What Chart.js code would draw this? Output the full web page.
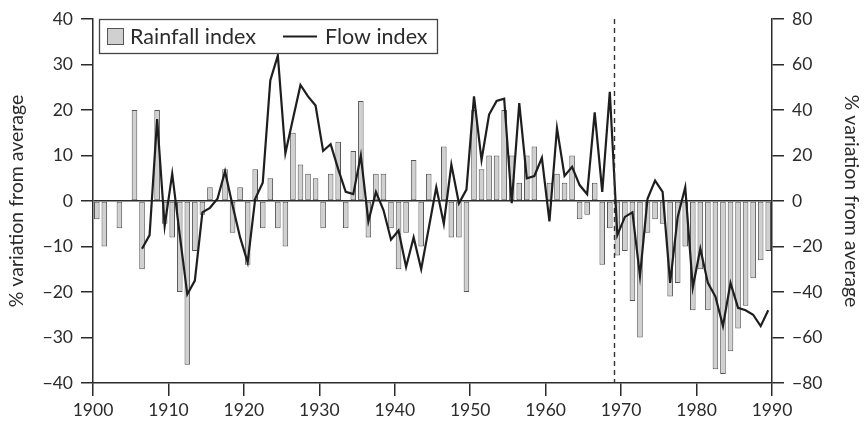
<!DOCTYPE html>
<html>
<head>
<meta charset="utf-8">
<title>Rainfall and flow index</title>
<script src="https://cdn.jsdelivr.net/npm/chart.js@4.4.1/dist/chart.umd.min.js"></script>
<style>
    body { margin: 0; background: #fff; }
    .wrap { width: 868px; height: 425px; position: relative; }
</style>
</head>
<body>
<div class="wrap"><canvas id="myChart"></canvas></div>
<script>
// years 1900..1989
const years = [];
for (let y = 1900; y <= 1989; y++) years.push(y);

// rainfall index, % variation from average (left axis)
const rainfall = [
    -4, -10, 0, -6, 0, 20, -15, 0, 20, -5,
    -8, -20, -36, -11, -3, 3, 0, 7, -7, 3,
    -14, 7, -6, 5, -6, -10, 15, 8, 6, 5,
    -6, 6, 13, -6, 11, 22, -8, 6, 6, -6,
    -15, -7, 9, -10, 6, 0, 12, -8, -8, -20,
    20, 7, 10, 10, 20, 10, 4, 10, 12, 0,
    4, 6, 4, 10, -4, -3, 4, -14, -6, -12,
    -11, -22, -30, -7, -4, -5, -21, -18, -10, -24,
    -15, -24, -37, -38, -33, -28, -23, -17, -13, -11
];

// flow index, % variation from average (right axis), starts 1906
const flow = [
    null, null, null, null, null, null, -21, -15, 36, -11,
    12, -15, -41, -35, -5, -3, 1, 13, -2, -16,
    -27, 1, 8, 53, 64, 21, 36, 51, 46, 42,
    22, 25, 14, 4, 3, 20, -9, 4, -4, -17,
    -13, -29, -16, -30, -12, 6, -10, 16, -1, 5,
    46, 18, 38, 44, 45, -1, 43, 10, 11, 19,
    -9, 32, 11, 15, 7, 3, 39, 4, 48, -15,
    -7, -5, -33, 1, 9, 4, -36, -7, 6, -38,
    -21, -36, -42, -55, -36, -47, -48, -50, -55, -48
];

const leftTicks = { min: -40, max: 40, step: 10 };
const rightTicks = { min: -80, max: 80, step: 20 };
const xTicks = { min: 1900, max: 1990, step: 10 };
const dividerYear = 1969.1;

const FONT = 'Lato, "Noto Sans", sans-serif';
const INK = '#2b2b2b';
const minus = v => String(v).replace('-', '\u2212');

// dashed divider + boxed legend
const extras = {
    id: 'extras',
    afterDatasetsDraw(chart) {
        const { ctx, chartArea, scales } = chart;
        const x = Math.round(scales.x.getPixelForValue(dividerYear)) + 0.5;
        ctx.save();
        ctx.strokeStyle = '#333';
        ctx.lineWidth = 1.4;
        ctx.setLineDash([5, 4]);
        ctx.beginPath();
        ctx.moveTo(x, chartArea.top);
        ctx.lineTo(x, chartArea.bottom);
        ctx.stroke();
        ctx.restore();

        // legend
        const lx = chartArea.left + 6, ly = chartArea.top;
        ctx.save();
        ctx.fillStyle = '#fff';
        ctx.fillRect(lx, ly, 338, 34);
        ctx.strokeStyle = '#444';
        ctx.lineWidth = 1.3;
        ctx.strokeRect(lx + 0.5, ly + 0.5, 338, 34);

        ctx.fillStyle = '#d0d0d0';
        ctx.fillRect(lx + 8, ly + 9, 16, 16);
        ctx.strokeStyle = '#555';
        ctx.lineWidth = 1;
        ctx.strokeRect(lx + 8.5, ly + 9.5, 16, 16);

        ctx.font = '21.5px ' + FONT;
        ctx.fillStyle = INK;
        ctx.textBaseline = 'middle';
        ctx.fillText('Rainfall index', lx + 31, ly + 18);

        ctx.strokeStyle = '#1e1e1e';
        ctx.lineWidth = 2;
        ctx.beginPath();
        ctx.moveTo(lx + 184, ly + 17.5);
        ctx.lineTo(lx + 218, ly + 17.5);
        ctx.stroke();
        ctx.fillText('Flow index', lx + 226, ly + 18);
        ctx.restore();
    }
};

const ctx = document.getElementById('myChart').getContext('2d');
const myChart = new Chart(ctx, {
    type: 'bar',
    data: {
        datasets: [{
            type: 'line',
            label: 'Flow index',
            data: years.map((y, i) => ({ x: y + 0.5, y: flow[i] })),
            yAxisID: 'y2',
            borderColor: '#1e1e1e',
            borderWidth: 2.2,
            pointRadius: 0,
            tension: 0,
            spanGaps: false,
            order: 0
        }, {
            label: 'Rainfall index',
            data: years.map((y, i) => ({ x: y + 0.5, y: rainfall[i] })),
            yAxisID: 'y',
            backgroundColor: '#d0d0d0',
            borderColor: '#555',
            borderWidth: 1,
            borderSkipped: false,
            categoryPercentage: 1,
            barPercentage: 0.74,
            order: 1
        }]
    },
    options: {
        responsive: true,
        maintainAspectRatio: false,
        devicePixelRatio: 1,
        animation: false,
        layout: { padding: { top: 19, left: 0, right: 0, bottom: 0 } },
        plugins: {
            legend: { display: false },
            tooltip: { enabled: false }
        },
        scales: {
            x: {
                type: 'linear',
                offset: false,
                min: xTicks.min,
                max: xTicks.max,
                afterFit: s => { s.height = 42; },
                border: { display: true, color: INK, width: 1.5 },
                grid: { offset: false, color: 'transparent', tickColor: INK, tickLength: 13, lineWidth: 1.5 },
                ticks: {
                    stepSize: xTicks.step,
                    color: INK,
                    padding: 4,
                    font: { family: FONT, size: 17.5 },
                    callback: v => String(v)
                }
            },
            y: {
                position: 'left',
                min: leftTicks.min,
                max: leftTicks.max,
                afterFit: s => { s.width = 93; },
                border: { display: true, color: INK, width: 1.5 },
                grid: {
                    color: c => c.tick && c.tick.value === 0 ? INK : 'transparent',
                    lineWidth: 1.5,
                    tickColor: INK,
                    tickLength: 12
                },
                ticks: {
                    stepSize: leftTicks.step,
                    color: INK,
                    padding: 8,
                    font: { family: FONT, size: 17.5 },
                    callback: v => minus(v)
                },
                title: {
                    display: true,
                    text: '% variation from average',
                    color: INK,
                    padding: { top: 5, bottom: 0 },
                    font: { family: FONT, size: 19.5 }
                }
            },
            y2: {
                position: 'right',
                min: rightTicks.min,
                max: rightTicks.max,
                afterFit: s => { s.width = 96; },
                border: { display: true, color: INK, width: 1.5 },
                grid: { drawOnChartArea: false, tickColor: INK, tickLength: 12, lineWidth: 1.5 },
                ticks: {
                    stepSize: rightTicks.step,
                    color: INK,
                    padding: 8,
                    font: { family: FONT, size: 17.5 },
                    callback: v => minus(v)
                },
                title: {
                    display: true,
                    text: '% variation from average',
                    color: INK,
                    padding: { top: 5, bottom: 0 },
                    font: { family: FONT, size: 19.5 }
                }
            }
        }
    },
    plugins: [extras]
});
</script>
</body>
</html>
